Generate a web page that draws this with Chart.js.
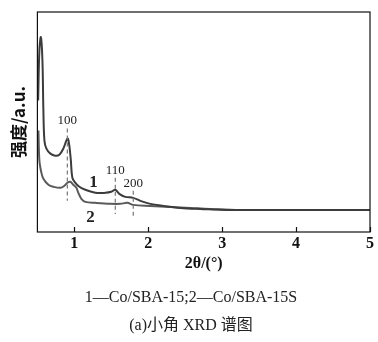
<!DOCTYPE html>
<html>
<head>
<meta charset="utf-8">
<script src="https://cdn.jsdelivr.net/npm/chart.js@4.4.1/dist/chart.umd.min.js"></script>
<style>
  html, body { margin: 0; padding: 0; background: #fff; }
  #wrap { width: 378px; height: 342px; }
</style>
</head>
<body>
<div id="wrap"><canvas id="c"></canvas></div>
<script>
/* 2theta positions (deg) and intensity (a.u.) */
const theta1 = [0.51, 0.527, 0.547, 0.568, 0.581, 0.595, 0.622, 0.676, 0.743, 0.797, 0.851, 0.892, 0.912, 0.932, 0.953, 0.973, 1.014, 1.068, 1.149, 1.284, 1.419, 1.5, 1.554, 1.608, 1.689, 1.797, 1.892, 2.027, 2.203, 2.432, 2.703, 3.108, 5.0];
const inten1 = [131, 181, 194, 171, 121, 91, 83, 78, 76, 77, 83, 91, 93, 86, 71, 54, 49, 45, 42, 39, 39, 40, 42, 38, 35, 34, 31, 28, 26, 24, 23, 22, 22];

const theta2 = [0.514, 0.527, 0.554, 0.581, 0.649, 0.716, 0.811, 0.865, 0.905, 0.946, 0.986, 1.027, 1.054, 1.095, 1.149, 1.284, 1.486, 1.622, 1.716, 1.797, 2.027, 2.297, 2.568, 2.838, 3.243, 5.0];
const inten2 = [101, 71, 59, 53, 47, 45, 44, 46, 49, 50, 47, 44, 39, 33, 30, 29, 28, 28, 29, 27, 26, 25, 24, 23, 22, 22];

const xTicks = [1, 2, 3, 4, 5];

/* reflections: label, position, dashed line span (a.u.) */
const peakNames = ["100", "110", "200"];
const peakPos = [0.905, 1.554, 1.797];
const peakTop = [103, 54, 41];
const peakBottom = [31, 18, 16];

const curveNames = ["1", "2"];
const curveLabelX = [1.26, 1.22];
const curveLabelY = [49, 14];

const caption = ["1\u2014Co/SBA-15;2\u2014Co/SBA-15S", "(a)\u5c0f\u89d2 XRD \u8c31\u56fe"];

const SERIF = "'Liberation Serif', 'DejaVu Serif', 'Noto Sans CJK SC', serif";

/* frame, inner ticks and annotations */
const decor = {
    id: "decor",
    afterDatasetsDraw(chart) {
        const { ctx, chartArea: a, scales: { x, y } } = chart;
        ctx.save();
        ctx.strokeStyle = "#111";
        ctx.lineWidth = 1.2;
        ctx.strokeRect(a.left, a.top, a.right - a.left, a.bottom - a.top);

        xTicks.forEach(v => {
            const px = Math.round(x.getPixelForValue(v)) + 0.5;
            ctx.beginPath();
            ctx.moveTo(px, a.bottom);
            ctx.lineTo(px, a.bottom - 5);
            ctx.stroke();
        });

        ctx.strokeStyle = "#777";
        ctx.lineWidth = 1.2;
        ctx.setLineDash([4, 3]);
        peakPos.forEach((p, i) => {
            const px = x.getPixelForValue(p);
            ctx.beginPath();
            ctx.moveTo(px, y.getPixelForValue(peakTop[i]));
            ctx.lineTo(px, y.getPixelForValue(peakBottom[i]));
            ctx.stroke();
        });
        ctx.setLineDash([]);

        ctx.fillStyle = "#222";
        ctx.textAlign = "center";
        ctx.textBaseline = "bottom";
        ctx.font = "13px " + SERIF;
        peakNames.forEach((t, i) => {
            ctx.fillText(t, x.getPixelForValue(peakPos[i]), y.getPixelForValue(peakTop[i]) - 1);
        });

        ctx.font = "bold 17px " + SERIF;
        ctx.textBaseline = "middle";
        curveNames.forEach((t, i) => {
            ctx.fillText(t, x.getPixelForValue(curveLabelX[i]), y.getPixelForValue(curveLabelY[i]));
        });
        ctx.restore();
    }
};

new Chart(document.getElementById("c"), {
    type: "line",
    data: {
        datasets: [
            {
                label: "Co/SBA-15",
                data: theta1.map((t, i) => ({ x: t, y: inten1[i] })),
                borderColor: "#3c3c3c",
                borderWidth: 2,
                pointRadius: 0,
                tension: 0.35,
                fill: false
            },
            {
                label: "Co/SBA-15S",
                data: theta2.map((t, i) => ({ x: t, y: inten2[i] })),
                borderColor: "#5a5a5a",
                borderWidth: 2,
                pointRadius: 0,
                tension: 0.35,
                fill: false
            }
        ]
    },
    options: {
        responsive: true,
        maintainAspectRatio: false,
        animation: false,
        layout: { padding: { left: 8, right: 4, top: 12, bottom: 2 } },
        plugins: {
            legend: { display: false },
            tooltip: { enabled: false },
            title: {
                display: true,
                position: "bottom",
                text: caption,
                color: "#222",
                font: { family: SERIF, size: 16, weight: "normal", lineHeight: 1.75 },
                padding: { top: 12, bottom: 0 }
            }
        },
        scales: {
            x: {
                type: "linear",
                min: 0.5,
                max: 5,
                afterBuildTicks: axis => { axis.ticks = xTicks.map(v => ({ value: v })); },
                grid: { display: false, drawTicks: false },
                border: { display: false },
                ticks: {
                    color: "#111",
                    padding: 4,
                    font: { family: SERIF, size: 16, weight: "bold", lineHeight: 1 }
                },
                title: {
                    display: true,
                    text: "2\u03b8/(\u00b0)",
                    color: "#111",
                    font: { family: SERIF, size: 16, weight: "bold", lineHeight: 1 },
                    padding: { top: 0, bottom: 0 }
                }
            },
            y: {
                min: 0,
                max: 219,
                grid: { display: false, drawTicks: false },
                border: { display: false },
                ticks: { display: false },
                title: {
                    display: true,
                    text: "\u5f3a\u5ea6/a.u.",
                    color: "#111",
                    font: { family: "'Noto Sans CJK SC', " + SERIF, size: 17, weight: "bold", lineHeight: 1.2 },
                    padding: { top: 0, bottom: 9 }
                }
            }
        }
    },
    plugins: [decor]
});
</script>
</body>
</html>
